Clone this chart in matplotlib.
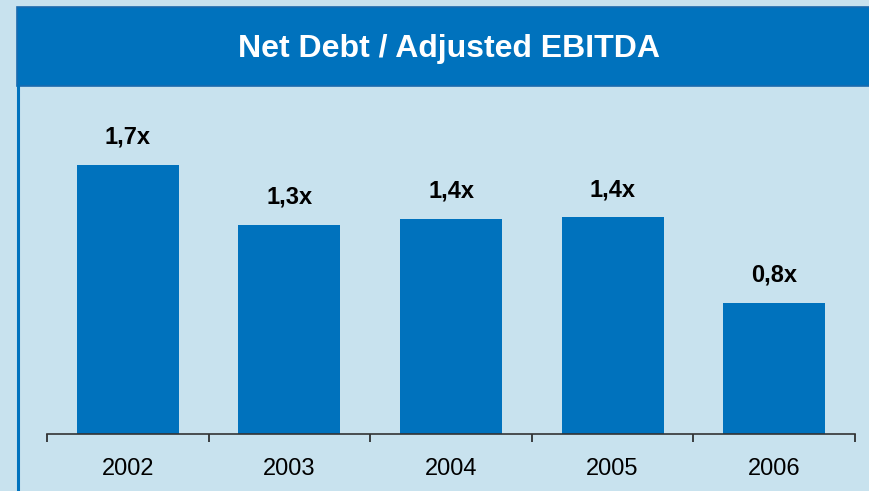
#!/usr/bin/env python3
# -*- coding: utf-8 -*-
"""Net debt / adjusted EBITDA leverage ratio, 2002-2006."""

import matplotlib
matplotlib.use("Agg")
import matplotlib.pyplot as plt
from matplotlib.patches import Rectangle
from matplotlib.lines import Line2D

years = ["2002", "2003", "2004", "2005", "2006"]
leverage = [1.70, 1.32, 1.36, 1.37, 0.83]
title = "Net Debt / Adjusted EBITDA"

BLUE = "#0072BD"
BACKGROUND = "#C8E2EE"

plt.rcParams["font.family"] = ["Liberation Sans", "DejaVu Sans"]

fig = plt.figure(figsize=(8.7, 4.91), dpi=100)
fig.patch.set_facecolor(BACKGROUND)

# title banner across the top
banner = Rectangle((17 / 870, 1 - 86 / 491), 1 - 17 / 870 + 0.01, 79 / 491,
                   transform=fig.transFigure, facecolor=BLUE,
                   edgecolor="#1B6AAE", linewidth=1.2)
fig.patches.append(banner)
fig.text(0.5 + 14 / 870, 1 - 49 / 491, title, color="white", fontsize=23,
         fontweight="bold", ha="center", va="center")

# thin frame line down the left edge
fig.add_artist(Line2D([18 / 870, 18 / 870], [0, 1 - 86 / 491],
                      transform=fig.transFigure, color=BLUE, linewidth=2.2))

ax = fig.add_axes([47 / 870, 1 - 434 / 491, 808 / 870, 348 / 491])
ax.set_facecolor("none")
x = range(len(years))
bars = ax.bar(x, leverage, width=0.63, color=BLUE, zorder=2)

for xi, val in zip(x, leverage):
    ax.annotate(f"{val:.1f}".replace(".", ",") + "x", (xi, val),
                xytext=(0, 20), textcoords="offset points",
                ha="center", va="center", fontsize=17, fontweight="bold")

ax.set_xlim(-0.5, len(years) - 0.5)
ax.set_ylim(0, 2.2)
ax.set_xticks(list(x))
ax.set_xticklabels(years, fontsize=17)
ax.tick_params(axis="x", which="major", length=0, pad=17)
ax.set_xticks([i - 0.5 for i in range(len(years) + 1)], minor=True)
ax.tick_params(axis="x", which="minor", length=6, width=1.2, color="#222222",
               direction="out")
ax.set_yticks([])
for side in ["top", "left", "right"]:
    ax.spines[side].set_visible(False)
ax.spines["bottom"].set_color("#333333")
ax.spines["bottom"].set_linewidth(1.2)

fig.savefig("out.png", dpi=100, facecolor=fig.get_facecolor())
